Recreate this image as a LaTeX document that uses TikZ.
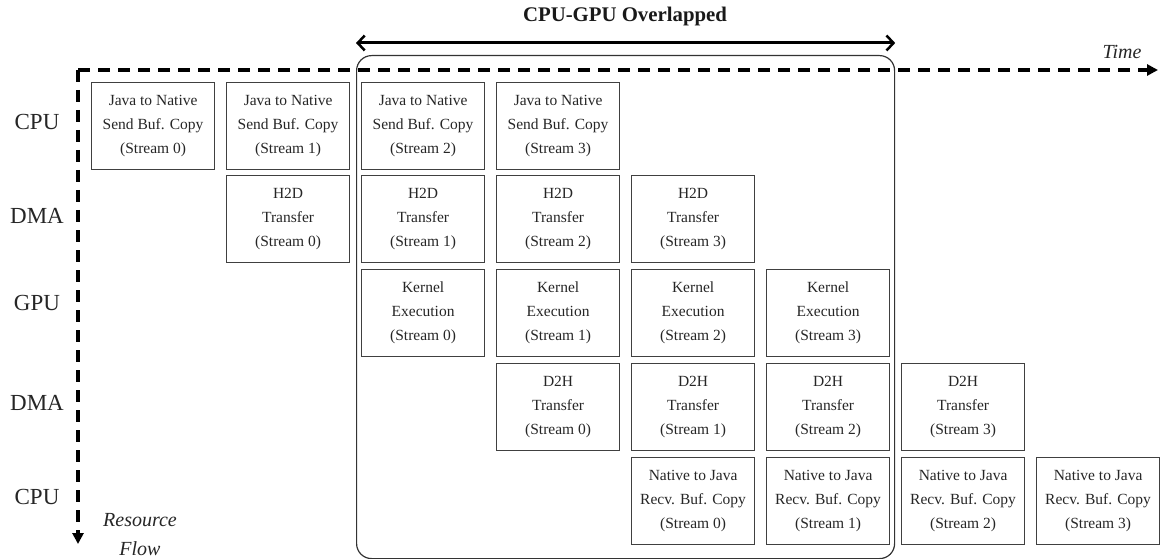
\documentclass[tikz,border=0pt]{standalone}
\usepackage{fontspec}
\setmainfont{Liberation Serif}
\usetikzlibrary{arrows.meta}
\begin{document}
\begin{tikzpicture}[x=1pt,y=-1pt,
  task/.style={draw=black!75, line width=1.2pt, minimum width=123pt, minimum height=87pt,
    inner sep=0pt, align=center, font=\fontsize{15.5}{24}\selectfont, text=black!85, anchor=north west},
  res/.style={font=\fontsize{23}{26}\selectfont, text=black!85},
  axislabel/.style={font=\fontsize{20}{22}\selectfont\itshape, text=black!85},
  axis/.style={line width=3.5pt, dash pattern=on 12pt off 8pt, -{Triangle[length=11pt,width=11pt]}},
  frame/.style={draw=black!80, line width=1.2pt, rounded corners=15pt, minimum width=538pt,
    minimum height=503pt, inner sep=0pt, anchor=north west},
  span/.style={line width=3pt, {Straight Barb[length=7pt,width=15pt,line width=2.5pt]}-{Straight Barb[length=7pt,width=15pt,line width=2.5pt]}}
]
\useasboundingbox (0,0) rectangle (1160,559);

% overlap frame
\node[frame] (ov) at (356,55) {};
\draw[span] ([yshift=12pt]ov.north west) -- ([yshift=12pt]ov.north east);
\node[font=\fontsize{20.8}{22}\selectfont\bfseries, text=black!90] (title) at (625,16) {CPU-GPU Overlapped};

% axes
\coordinate (o) at (78,70);
\coordinate (tend) at (1158,70);
\coordinate (rend) at (78,544);
\draw[axis] (o) -- (tend);
\draw[axis] (o) -- (rend);
\node[axislabel] (time) at (1122,52) {Time};
\node[axislabel] (resource) at (140,520) {Resource};
\node[axislabel] (flow) at (140,549) {Flow};

% resource labels
\node[res] (r0) at (37,122) {CPU};
\node[res] (r1) at (37,216) {DMA};
\node[res] (r2) at (37,303) {GPU};
\node[res] (r3) at (37,403) {DMA};
\node[res] (r4) at (37,497) {CPU};

% tasks
\foreach \s in {0,1,2,3}{
  \pgfmathsetmacro{\xa}{91+135*\s}
  \pgfmathsetmacro{\xb}{91+135*(\s+1)}
  \pgfmathsetmacro{\xc}{91+135*(\s+2)}
  \pgfmathsetmacro{\xd}{91+135*(\s+3)}
  \pgfmathsetmacro{\xe}{91+135*(\s+4)}
  \node[task] (c\s) at (\xa,82) {Java to Native\\Send Buf. Copy\\(Stream \s)};
  \node[task] (h\s) at (\xb,175) {H2D\\Transfer\\(Stream \s)};
  \node[task] (k\s) at (\xc,269) {Kernel\\Execution\\(Stream \s)};
  \node[task] (d\s) at (\xd,363) {D2H\\Transfer\\(Stream \s)};
  \node[task] (n\s) at (\xe,457) {Native to Java\\Recv. Buf. Copy\\(Stream \s)};
}
\end{tikzpicture}
\end{document}
